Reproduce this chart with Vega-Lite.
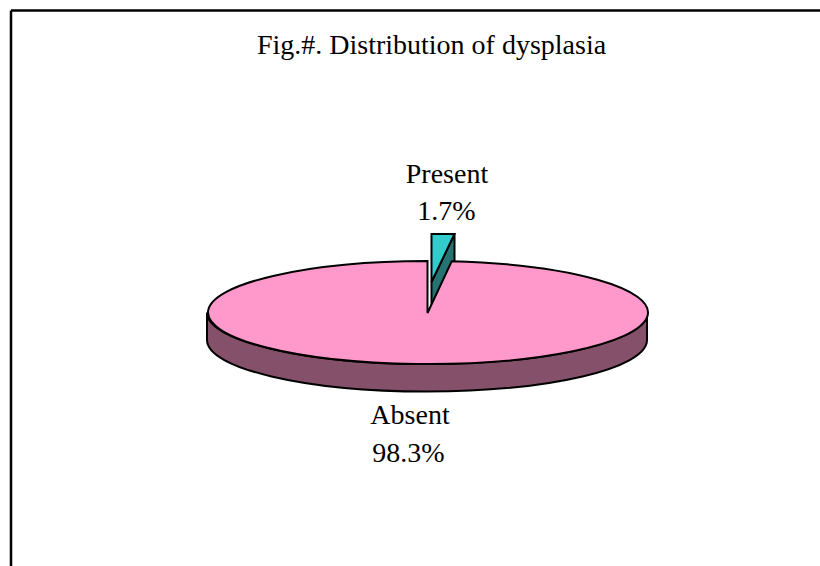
{
  "$schema": "https://vega.github.io/schema/vega-lite/v6.json",
  "width": 810,
  "height": 556,
  "autosize": {"type": "none"},
  "padding": {"left": 10.5, "top": 10, "right": 0, "bottom": 0},
  "background": "white",
  "title": {"text": "Fig.#. Distribution of dysplasia", "font": "Liberation Serif", "fontSize": 28, "fontWeight": "normal", "color": "black", "anchor": "middle", "dx": 16, "dy": 15, "offset": -57, "baseline": "alphabetic"},
  "data": {"values": [
    {"slice": "Absent", "share": 0.983},
    {"slice": "Present", "share": 0.017}
  ]},
  "encoding": {
    "x": {"datum": 0, "type": "quantitative", "scale": {"domain": [-416.5, 393.5], "nice": false, "zero": false},
      "axis": {"orient": "top", "title": null, "labels": false, "ticks": false, "grid": false, "domainColor": "black", "domainWidth": 2.5}},
    "y": {"datum": 0, "type": "quantitative", "scale": {"domain": [-253.5, 302.5], "nice": false, "zero": false},
      "axis": {"orient": "left", "title": null, "labels": false, "ticks": false, "grid": false, "domainColor": "black", "domainWidth": 2.5}}
  },
  "layer": [
    {"transform": [{"filter": "datum.slice === 'Absent'"}],
     "mark": {"type": "point", "filled": true, "size": 4, "opacity": 1, "fill": "#84506A", "stroke": "black", "strokeWidth": 2, "shape": "M-220,0 L-220,27.5 A220,51.5 0 0 0 220,27.5 L220,0 A220,51.5 0 0 1 -220,0 Z"}},
    {"transform": [{"filter": "datum.slice === 'Present'"}],
     "mark": {"type": "point", "filled": true, "size": 4, "opacity": 1, "fill": "#267373", "stroke": "black", "strokeWidth": 2, "shape": "M4.5,-30.5 L27.5,-78.5 L27.5,-51.5 L4.5,-3.5 Z"}},
    {"transform": [{"filter": "datum.slice === 'Present'"}],
     "mark": {"type": "point", "filled": true, "size": 4, "opacity": 1, "fill": "#33CCCC", "stroke": "black", "strokeWidth": 2, "shape": "M4.5,-78.5 L27.5,-78.5 L4.5,-30.5 Z"}},
    {"transform": [{"filter": "datum.slice === 'Absent'"}],
     "mark": {"type": "point", "filled": true, "size": 4, "opacity": 1, "fill": "#FF99CC", "stroke": "black", "strokeWidth": 2, "shape": "M0.5,0.5 L0.5,-51.5 A220,51.5 0 1 0 24.7,-51.2 Z"}},
    {"transform": [{"filter": "datum.slice === 'Present'"}],
     "mark": {"type": "text", "font": "Liberation Serif", "fontSize": 28, "color": "black", "baseline": "alphabetic", "align": "center"},
     "encoding": {"x": {"datum": 20}, "y": {"datum": 129.5}, "text": {"field": "slice"}}},
    {"transform": [{"filter": "datum.slice === 'Present'"}],
     "mark": {"type": "text", "font": "Liberation Serif", "fontSize": 28, "color": "black", "baseline": "alphabetic", "align": "center"},
     "encoding": {"x": {"datum": 19.5}, "y": {"datum": 92.5}, "text": {"field": "share", "type": "quantitative", "format": ".1%"}}},
    {"transform": [{"filter": "datum.slice === 'Absent'"}],
     "mark": {"type": "text", "font": "Liberation Serif", "fontSize": 28, "color": "black", "baseline": "alphabetic", "align": "center"},
     "encoding": {"x": {"datum": -17}, "y": {"datum": -111.5}, "text": {"field": "slice"}}},
    {"transform": [{"filter": "datum.slice === 'Absent'"}],
     "mark": {"type": "text", "font": "Liberation Serif", "fontSize": 28, "color": "black", "baseline": "alphabetic", "align": "center"},
     "encoding": {"x": {"datum": -18.5}, "y": {"datum": -149}, "text": {"field": "share", "type": "quantitative", "format": ".1%"}}}
  ],
  "config": {"view": {"stroke": null}}
}
